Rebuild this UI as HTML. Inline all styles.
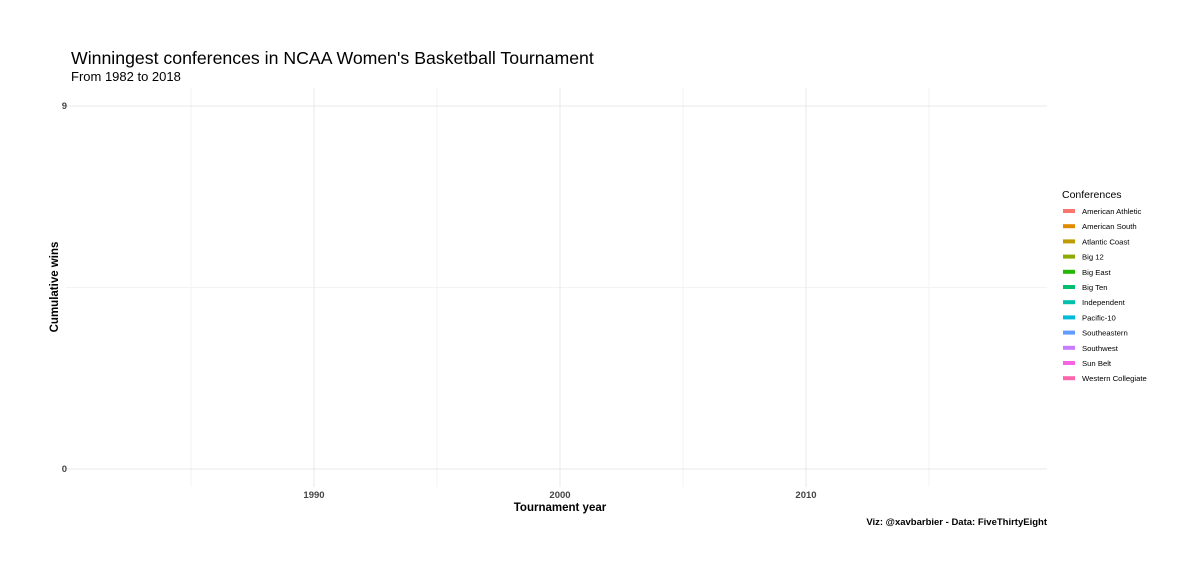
<!DOCTYPE html>
<html><head><meta charset="utf-8"><style>
body{margin:0;background:#fff;font-family:"Liberation Sans",sans-serif}
</style></head><body>
<svg id="chart" width="1200" height="577" viewBox="0 0 1200 577" xmlns="http://www.w3.org/2000/svg">
<rect width="1200" height="577" fill="#fff"/>
<text x="71" y="64" font-size="17.7" fill="#000">Winningest conferences in NCAA Women's Basketball Tournament</text>
<text x="71" y="81" font-size="13" fill="#000">From 1982 to 2018</text>
<g id="grid"></g>
<g id="lines"></g>
<text x="560" y="511" font-size="11.5" font-weight="bold" text-anchor="middle">Tournament year</text>
<text transform="translate(58,287) rotate(-90)" font-size="11.5" font-weight="bold" text-anchor="middle">Cumulative wins</text>
<text x="1047" y="525" font-size="9.5" font-weight="bold" text-anchor="end">Viz: @xavbarbier - Data: FiveThirtyEight</text>
<g id="legend">
<text x="1062" y="198" font-size="10.5">Conferences</text>
</g>
</svg>
<script>
const conferences = ["American Athletic","American South","Atlantic Coast","Big 12","Big East","Big Ten","Independent","Pacific-10","Southeastern","Southwest","Sun Belt","Western Collegiate"];
const colors = ["#F8766D","#E18A00","#BE9C00","#8CAB00","#24B700","#00BE70","#00C1AB","#00BBDA","#619CFF","#C77CFF","#F564E3","#FF65AC"];
const xMajorTicks = [1990,2000,2010];
const xMinorTicks = [1985,1995,2005,2015];
const yMajorTicks = [0,9];
const yMinorTicks = [4.5];
// series: cumulative wins per conference (empty at this frame)
const years = [];
const series = [];

const NS="http://www.w3.org/2000/svg";
const x = y => 314 + (y-1990)*24.6;
const yS = v => 469 - v*(363/9);
function mk(tag,attrs,parent){const e=document.createElementNS(NS,tag);for(const k in attrs)e.setAttribute(k,attrs[k]);parent.appendChild(e);return e;}
const grid=document.getElementById('grid');
xMinorTicks.forEach(t=>{const l=mk('line',{x1:x(t),x2:x(t),y1:88,y2:487,stroke:'#f3f3f3','stroke-width':1},grid);

});
yMinorTicks.forEach(t=>{const l=mk('line',{x1:66,x2:1047,y1:yS(t),y2:yS(t),stroke:'#f3f3f3','stroke-width':1},grid);

});
xMajorTicks.forEach(t=>{const l=mk('line',{x1:x(t),x2:x(t),y1:88,y2:487,stroke:'#e8e8e8','stroke-width':1},grid);


const tx=mk('text',{x:x(t),y:498,'font-size':9.5,'font-weight':'bold',fill:'#444','text-anchor':'middle'},grid);tx.textContent=t;

});
yMajorTicks.forEach(t=>{const l=mk('line',{x1:66,x2:1047,y1:yS(t),y2:yS(t),stroke:'#e8e8e8','stroke-width':1},grid);


const tx=mk('text',{x:67,y:yS(t)+3,'font-size':9.5,'font-weight':'bold',fill:'#444','text-anchor':'end'},grid);tx.textContent=t;

});
const lines=document.getElementById('lines');
series.forEach((s,i)=>{const pts=s.map((v,j)=>x(years[j])+','+yS(v)).join(' ');
const p=mk('polyline',{points:pts,fill:'none',stroke:colors[i%colors.length],'stroke-width':2},lines);

});
const lg=document.getElementById('legend');
conferences.forEach((c,i)=>{const yy=211+i*15.2;
const g=mk('g',{},lg);


mk('rect',{x:1063,y:yy-2,width:12,height:4,fill:colors[i]},g);
const t=mk('text',{x:1082,y:yy+3,'font-size':7.7,fill:'#000'},g);t.textContent=c;});
</script>
</body></html>
